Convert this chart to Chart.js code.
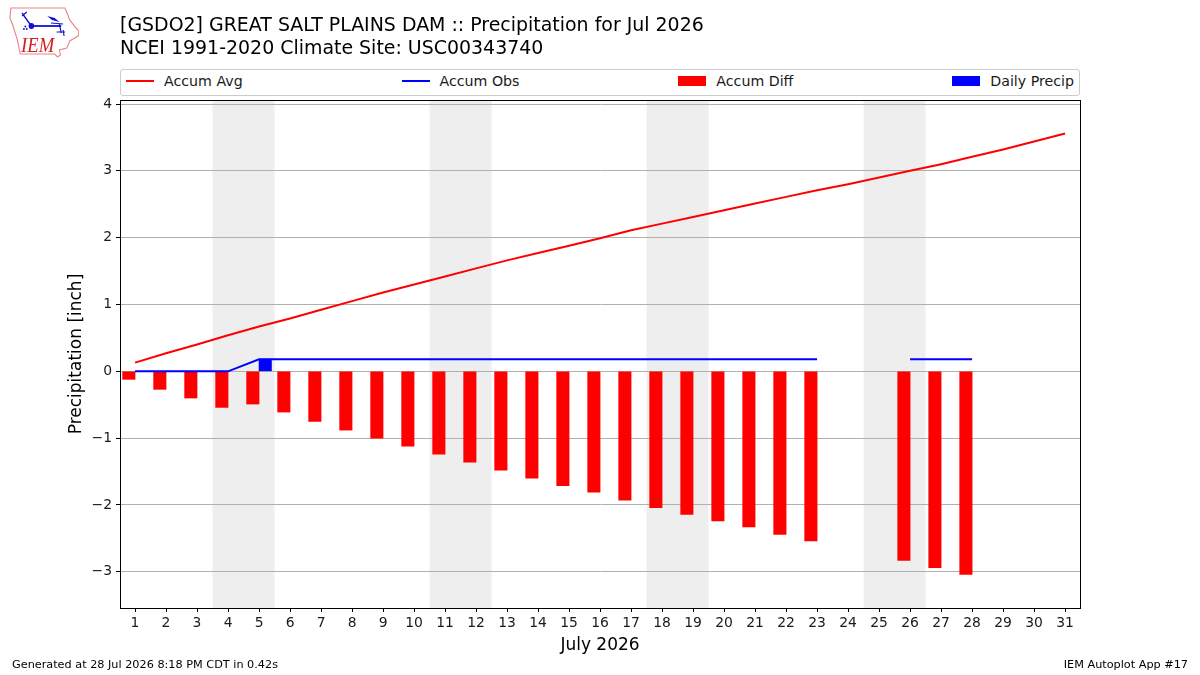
<!DOCTYPE html>
<html>
<head>
<meta charset="utf-8">
<title>Precipitation for Jul 2026</title>
<script src="https://cdn.jsdelivr.net/npm/chart.js@4"></script>
<style>
  html, body { margin: 0; padding: 0; background: #fff; }
  body { width: 1200px; height: 675px; position: relative; overflow: hidden; font-family: "DejaVu Sans", sans-serif; color: #000; }
  #chart { position: absolute; left: 0; top: 0; }
  #logo { position: absolute; left: 9px; top: 7px; }
  #legend {
    position: absolute; left: 120px; top: 69px; width: 960px; height: 27px;
    box-sizing: border-box; border: 1px solid #ccc; border-radius: 3px;
    padding: 0 5px 3px; display: flex; justify-content: space-between; align-items: center;
    font-size: 14.2px; color: #1a1a1a; background: #fff;
  }
  #legend .item { display: flex; align-items: center; }
  #legend .swatch { width: 28px; margin-right: 10px; }
  .foot { position: absolute; top: 658px; font-size: 11.25px; white-space: nowrap; }
</style>
</head>
<body>
<canvas id="chart" width="1200" height="675"></canvas>

<svg id="logo" width="70" height="52" viewBox="0 0 75 52" preserveAspectRatio="none">
  <path d="M2 1 L60 1 L63 8 L65 13 L71 20 L75 24 L74 29 L65 34 L62 41 L54 43 L55 48 L52 50 L49 47 L12 47 L9 33 L4 18 L1 11 Z"
        fill="#fff" stroke="#e8868a" stroke-width="1.2"/>
  <g stroke="#1010d0" fill="none">
    <path d="M14 6 L20 14 L24 19 M14 9 L19 5" stroke-width="1.4"/>
    <path d="M24 19 L56 19" stroke-width="1.8"/>
    <path d="M45 16 L58 17 M54 17 L56 26 M51 25 L60 25 M58 23 L59 29" stroke-width="1.2"/>
  </g>
  <circle cx="24" cy="19" r="3" fill="#1010d0"/>
  <circle cx="16" cy="22" r="1" fill="#1010d0"/>
  <circle cx="19" cy="22" r="1" fill="#1010d0"/>
  <circle cx="17.5" cy="19.5" r="1" fill="#1010d0"/>
  <path d="M41 9 L49 11 L54 15 L46 13 Z" fill="#1010d0"/>
  <text x="13" y="45" font-family="Liberation Serif" font-style="italic" font-size="20" fill="#d02020">IEM</text>
</svg>

<div id="legend"></div>
<div class="foot" style="left:12px">Generated at 28 Jul 2026 8:18 PM CDT in 0.42s</div>
<div class="foot" style="right:12px">IEM Autoplot App #17</div>

<script>
const titleLines = [
  "[GSDO2] GREAT SALT PLAINS DAM :: Precipitation for Jul 2026",
  "NCEI 1991-2020 Climate Site: USC00343740",
];

const days = [1, 2, 3, 4, 5, 6, 7, 8, 9, 10, 11, 12, 13, 14, 15, 16, 17, 18, 19, 20, 21, 22, 23, 24, 25, 26, 27, 28, 29, 30, 31];
const accumAvg = [0.13, 0.27, 0.40, 0.54, 0.67, 0.79, 0.92, 1.05, 1.18, 1.30, 1.42, 1.54, 1.66, 1.77, 1.88, 1.99, 2.11, 2.21, 2.31, 2.41, 2.51, 2.61, 2.71, 2.80, 2.90, 3.00, 3.10, 3.21, 3.32, 3.44, 3.56];
const accumObs = [0, 0, 0, 0, 0.18, 0.18, 0.18, 0.18, 0.18, 0.18, 0.18, 0.18, 0.18, 0.18, 0.18, 0.18, 0.18, 0.18, 0.18, 0.18, 0.18, 0.18, 0.18, null, null, 0.18, 0.18, 0.18, null, null, null];
const accumDiff = [-0.12, -0.27, -0.40, -0.54, -0.49, -0.61, -0.75, -0.88, -1.00, -1.12, -1.24, -1.36, -1.48, -1.60, -1.71, -1.81, -1.93, -2.04, -2.14, -2.24, -2.33, -2.44, -2.54, null, null, -2.83, -2.94, -3.04, null, null, null];
const dailyPrecip = [0, 0, 0, 0, 0.18, 0, 0, 0, 0, 0, 0, 0, 0, 0, 0, 0, 0, 0, 0, 0, 0, 0, 0, null, null, 0, 0, 0, null, null, null];

// weekend spans, in day-of-month units
const weekendStart = [3.5, 10.5, 17.5, 24.5];
const weekendEnd = [5.5, 12.5, 19.5, 26.5];

function pairs(values) {
  return days.map((d, i) => ({ x: d, y: values[i] }));
}

// dry days get no bar at all, a zero-height one leaves a faint dash on the axis
function wetPairs(values) {
  return days.map((d, i) => ({ x: d, y: values[i] || null }));
}

const weekendShade = {
  id: "weekendShade",
  beforeDraw(chart) {
    const { ctx, chartArea, scales } = chart;
    ctx.save();
    ctx.fillStyle = "#eeeeee";
    weekendStart.forEach((start, i) => {
      const a = scales.x.getPixelForValue(start);
      const b = scales.x.getPixelForValue(weekendEnd[i]);
      ctx.fillRect(a, chartArea.top, b - a, chartArea.height);
    });
    ctx.restore();
  },
};

const plotFrame = {
  id: "plotFrame",
  afterDraw(chart) {
    const { ctx, chartArea } = chart;
    ctx.save();
    ctx.strokeStyle = "#000";
    ctx.lineWidth = 1;
    ctx.strokeRect(chartArea.left + 0.5, chartArea.top + 0.5, chartArea.width, chartArea.height);
    ctx.restore();
  },
};

const chart = new Chart(document.getElementById("chart"), {
  type: "bar",
  plugins: [weekendShade, plotFrame],
  data: {
    datasets: [
      { type: "line", label: "Accum Avg", data: pairs(accumAvg), borderColor: "#ff0000", backgroundColor: "#ff0000", borderWidth: 2, pointRadius: 0, tension: 0, order: 1 },
      { type: "line", label: "Accum Obs", data: pairs(accumObs), borderColor: "#0000ff", backgroundColor: "#0000ff", borderWidth: 2, pointRadius: 0, tension: 0, spanGaps: false, order: 2 },
      { type: "bar", label: "Accum Diff", data: pairs(accumDiff), backgroundColor: "#ff0000", barThickness: 12.4, order: 3 },
      { type: "bar", label: "Daily Precip", data: wetPairs(dailyPrecip), backgroundColor: "#0000ff", barThickness: 12.4, order: 4 },
    ],
  },
  options: {
    responsive: false,
    animation: false,
    layout: { padding: { top: 14, right: 120, bottom: 0, left: 0 } },
    plugins: {
      legend: { display: false },
      tooltip: { enabled: false },
      title: {
        display: true,
        fullSize: false,
        text: titleLines,
        align: "start",
        color: "#000",
        font: { family: "DejaVu Sans", size: 18.95, weight: "normal", lineHeight: "23.5px" },
        padding: { top: 0, bottom: 39 },
      },
    },
    scales: {
      x: {
        type: "linear",
        offset: false,
        min: 0.515,
        max: 31.48,
        afterFit(scale) { scale.height = 67; },
        grid: { offset: false, drawOnChartArea: false, drawTicks: true, tickLength: 4, tickColor: "#000" },
        border: { color: "#000" },
        ticks: { stepSize: 1, includeBounds: false, autoSkip: false, maxRotation: 0, color: "#1a1a1a", padding: 3, font: { family: "DejaVu Sans", size: 13.9 } },
        title: { display: true, text: "July 2026", color: "#000", font: { family: "DejaVu Sans", size: 17 }, padding: { top: 0, bottom: 19 } },
      },
      y: {
        type: "linear",
        min: -3.542,
        max: 4.06,
        afterFit(scale) { scale.width = 120; },
        grid: { color: "#b0b0b0", lineWidth: 1, tickLength: 4, tickColor: "#000" },
        border: { color: "#000" },
        ticks: {
          stepSize: 1,
          includeBounds: false,
          color: "#1a1a1a",
          padding: 4,
          font: { family: "DejaVu Sans", size: 13.9 },
          callback(value) { return String(value).replace("-", "\u2212"); },
        },
        title: { display: true, text: "Precipitation [inch]", color: "#000", font: { family: "DejaVu Sans", size: 17 }, padding: { top: 66, bottom: 0 } },
      },
    },
  },
});

// legend row spread across the full plot width
function buildLegend() {
  const box = document.getElementById("legend");
  chart.data.datasets.forEach((ds) => {
    const item = document.createElement("div");
    item.className = "item";
    const swatch = document.createElement("span");
    swatch.className = "swatch";
    swatch.style.height = ds.type === "line" ? "2px" : "10px";
    swatch.style.background = ds.backgroundColor;
    const label = document.createElement("span");
    label.textContent = ds.label;
    item.append(swatch, label);
    box.append(item);
  });
}
buildLegend();
</script>
</body>
</html>
